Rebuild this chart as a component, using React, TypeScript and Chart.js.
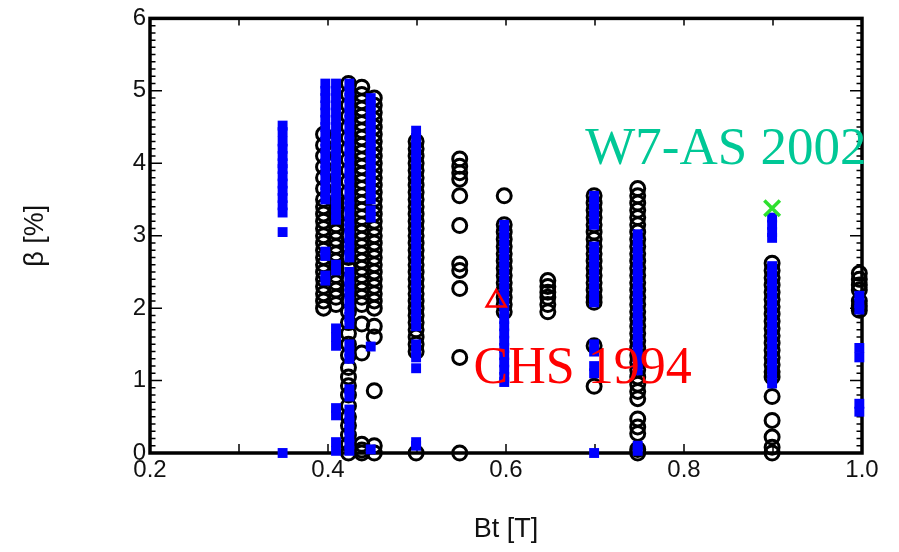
import { useEffect, useRef } from 'react';
import { Chart, registerables } from 'chart.js';

Chart.register(...registerables);

// ---- axis ticks ----
const xTickValues = [0.2, 0.4, 0.6, 0.8, 1.0];
const yTickValues = [0, 1, 2, 3, 4, 5, 6];

// ---- black open circles: [Bt, beta values] ----
const circles0395 = [4.4, 4.25, 4.1, 3.95, 3.8, 3.65, 3.5, 3.4, 3.3, 3.2, 3.1, 3.0, 2.9, 2.8, 2.7, 2.6, 2.5, 2.4, 2.3, 2.2, 2.1, 2.0];
const circles0409 = [3.45, 3.35, 3.25, 3.15, 3.05, 2.95, 2.85, 2.75, 2.65, 2.55, 2.45, 2.35, 2.25, 2.15, 2.05];
const circles0423 = [5.1, 4.95, 4.8, 4.65, 4.5, 4.35, 4.2, 4.05, 3.9, 3.75, 3.6, 3.45, 3.3, 3.15, 3.0, 2.85, 2.7, 2.55, 2.4, 2.25, 2.1, 1.95, 1.8, 1.65, 1.5, 1.35, 1.18, 1.05, 0.93, 0.8, 0.65, 0.5, 0.38, 0.25, 0.12, 0.0];
const circles0438 = [5.05, 4.95, 4.85, 4.75, 4.65, 4.55, 4.45, 4.35, 4.25, 4.15, 4.05, 3.95, 3.85, 3.75, 3.65, 3.55, 3.45, 3.35, 3.25, 3.15, 3.05, 2.95, 2.85, 2.75, 2.65, 2.55, 2.45, 2.35, 2.25, 2.15, 2.05, 1.78, 1.38, 0.12, 0.04, 0.0];
const circles0452 = [4.9, 4.8, 4.7, 4.6, 4.5, 4.4, 4.3, 4.2, 4.1, 4.0, 3.9, 3.8, 3.7, 3.6, 3.5, 3.4, 3.3, 3.2, 3.1, 3.0, 2.9, 2.8, 2.7, 2.6, 2.5, 2.4, 2.3, 2.2, 2.1, 2.0, 1.75, 1.6, 0.86, 0.1, 0.0];
const circles0499 = [4.3, 4.2, 4.1, 4.0, 3.9, 3.8, 3.7, 3.6, 3.5, 3.4, 3.3, 3.2, 3.1, 3.0, 2.9, 2.8, 2.7, 2.6, 2.5, 2.4, 2.3, 2.2, 2.1, 2.0, 1.9, 1.8, 1.7, 1.6, 1.5, 1.4, 0.0];
const circles0548 = [4.06, 3.96, 3.87, 3.78, 3.55, 3.14, 2.61, 2.52, 2.27, 1.32, 0.0];
const circles0598 = [3.55, 3.15, 3.05, 2.95, 2.85, 2.75, 2.65, 2.55, 2.45, 2.35, 2.25, 2.15, 2.05, 1.95];
const circles0647 = [2.38, 2.3, 2.22, 2.15, 2.05, 1.95];
const circles0699 = [3.55, 3.45, 3.35, 3.25, 3.15, 3.05, 2.95, 2.85, 2.75, 2.65, 2.55, 2.45, 2.35, 2.25, 2.15, 2.08, 1.48, 0.92];
const circles0748 = [3.65, 3.55, 3.45, 3.35, 3.25, 3.15, 3.05, 2.95, 2.85, 2.75, 2.65, 2.55, 2.45, 2.35, 2.25, 2.15, 2.05, 1.95, 1.85, 1.75, 1.65, 1.55, 1.45, 1.35, 1.25, 1.15, 1.05, 0.95, 0.85, 0.75, 0.47, 0.36, 0.27, 0.05, 0.0];
const circles0899 = [2.62, 2.52, 2.42, 2.32, 2.22, 2.12, 2.02, 1.92, 1.82, 1.72, 1.62, 1.52, 1.42, 1.32, 1.22, 1.12, 1.05, 0.78, 0.45, 0.22, 0.08, 0.0];
const circles0997 = [2.48, 2.4, 2.32, 2.25, 2.1, 2.03, 1.97];

const circleColumns: [number, number[]][] = [
  [0.395, circles0395], [0.409, circles0409], [0.423, circles0423], [0.438, circles0438],
  [0.452, circles0452], [0.499, circles0499], [0.548, circles0548], [0.598, circles0598],
  [0.647, circles0647], [0.699, circles0699], [0.748, circles0748], [0.899, circles0899],
  [0.997, circles0997],
];

// ---- blue filled squares ----
const squares0349 = [4.52, 4.43, 4.3, 4.2, 4.1, 4.0, 3.92, 3.82, 3.72, 3.62, 3.52, 3.42, 3.32, 3.05, 0.0];
const squares0397 = [5.1, 5.0, 4.9, 4.8, 4.7, 4.6, 4.5, 4.4, 4.3, 4.2, 4.1, 4.0, 3.9, 3.8, 3.7, 3.6, 3.5, 2.78, 2.72, 2.45, 2.38];
const squares0409 = [5.1, 5.0, 4.9, 4.8, 4.7, 4.6, 4.5, 4.4, 4.3, 4.2, 4.1, 4.0, 3.9, 3.8, 3.7, 3.6, 3.5, 3.4, 3.3, 3.22, 2.6, 2.52, 1.72, 1.6, 1.48, 0.62, 0.52, 0.15, 0.03];
const squares0424 = [5.1, 5.0, 4.9, 4.8, 4.7, 4.6, 4.5, 4.4, 4.3, 4.2, 4.1, 4.0, 3.9, 3.8, 3.7, 3.6, 3.5, 3.4, 3.3, 3.2, 3.1, 3.0, 2.9, 2.8, 2.7, 2.5, 2.4, 2.3, 2.2, 2.08, 1.98, 1.88, 1.78, 1.5, 1.4, 1.3, 0.88, 0.78, 0.6, 0.5, 0.42, 0.32, 0.22, 0.12, 0.03];
const squares0448 = [4.9, 4.8, 4.7, 4.6, 4.5, 4.4, 4.3, 4.2, 4.1, 4.0, 3.9, 3.8, 3.7, 3.6, 3.5, 3.35, 3.25, 1.47, 0.05];
const squares0499 = [4.45, 4.35, 4.25, 4.15, 4.05, 3.95, 3.85, 3.75, 3.65, 3.55, 3.45, 3.35, 3.25, 3.15, 3.05, 2.95, 2.85, 2.75, 2.65, 2.55, 2.45, 2.35, 2.25, 2.15, 2.05, 1.95, 1.85, 1.75, 1.5, 1.4, 1.32, 1.17, 0.15, 0.1];
const squares0598 = [3.15, 3.05, 2.95, 2.85, 2.75, 2.65, 2.55, 2.45, 2.35, 2.25, 2.15, 2.05, 1.95, 1.85, 1.75, 1.65, 1.55, 1.45, 1.35, 1.25, 1.15, 1.05, 0.98];
const squares0699 = [3.55, 3.45, 3.35, 3.25, 3.15, 2.85, 2.75, 2.65, 2.55, 2.45, 2.35, 2.25, 2.15, 2.08, 1.5, 1.4, 1.2, 1.1, 0.0];
const squares0748 = [3.02, 2.92, 2.82, 2.72, 2.62, 2.52, 2.42, 2.32, 2.22, 2.12, 2.02, 1.92, 1.82, 1.72, 1.62, 1.52, 1.42, 1.32, 1.22, 1.14, 0.1, 0.03];
const squares0899 = [3.25, 3.15, 3.05, 2.97, 2.58, 2.48, 2.38, 2.28, 2.18, 2.08, 1.98, 1.88, 1.78, 1.68, 1.58, 1.48, 1.38, 1.28, 1.18, 1.08, 0.96];
const squares0997 = [2.17, 2.07, 1.98, 1.45, 1.32, 0.68, 0.57];

const squareColumns: [number, number[]][] = [
  [0.349, squares0349], [0.397, squares0397], [0.409, squares0409], [0.424, squares0424],
  [0.448, squares0448], [0.499, squares0499], [0.598, squares0598], [0.699, squares0699],
  [0.748, squares0748], [0.899, squares0899], [0.997, squares0997],
];

// ---- single records ----
const chs1994 = [{ x: 0.589, y: 2.1 }];
const w7as2002 = [{ x: 0.899, y: 3.38 }];

// ---- text annotations (data coordinates) ----
const annotationTexts = ['W7-AS 2002', 'CHS 1994'];
const annotationBt = [0.689, 0.5635];
const annotationBeta = [3.99, 0.965];
const annotationColors = ['#00c896', '#ff0000'];
const annotationSizes = [53, 52];

const flatten = (cols: [number, number[]][]) =>
  cols.flatMap(([bt, betas]) => betas.map((b) => ({ x: bt, y: b })));

const framePlugin = {
  id: 'frameTicks',
  beforeDatasetsDraw(chart: any) {
    const { ctx, chartArea: a, scales } = chart;
    const xs = scales.x;
    const ys = scales.y;
    ctx.save();
    ctx.strokeStyle = '#000';
    ctx.lineWidth = 1.5;
    ctx.beginPath();
    for (let i = 0; i <= 60; i++) {
      const py = ys.getPixelForValue(i / 10);
      const len = i % 10 === 0 ? 12 : 5.5;
      ctx.moveTo(a.left, py);
      ctx.lineTo(a.left + len, py);
      ctx.moveTo(a.right, py);
      ctx.lineTo(a.right - len, py);
    }
    for (let i = 0; i <= 8; i++) {
      const px = xs.getPixelForValue(0.2 + i / 10);
      ctx.moveTo(px, a.bottom);
      ctx.lineTo(px, a.bottom - 9);
      ctx.moveTo(px, a.top);
      ctx.lineTo(px, a.top + 7);
    }
    ctx.stroke();
    ctx.lineWidth = 3.5;
    ctx.strokeRect(a.left, a.top, a.right - a.left, a.bottom - a.top);
    ctx.restore();
  },
  afterDatasetsDraw(chart: any) {
    const { ctx, scales } = chart;
    ctx.save();
    ctx.textAlign = 'left';
    ctx.textBaseline = 'alphabetic';
    annotationTexts.forEach((t, i) => {
      ctx.font = `${annotationSizes[i]}px "Liberation Serif", "Times New Roman", serif`;
      ctx.fillStyle = annotationColors[i];
      ctx.fillText(t, scales.x.getPixelForValue(annotationBt[i]), scales.y.getPixelForValue(annotationBeta[i]));
    });
    ctx.restore();
  },
};

export default function App() {
  const ref = useRef<HTMLCanvasElement>(null);
  useEffect(() => {
    const tickFont = { family: '"Liberation Sans", Arial, sans-serif', size: 24 };
    const titleFont = { family: '"Liberation Sans", Arial, sans-serif', size: 27 };
    const chart = new Chart(ref.current!, {
      type: 'scatter',
      data: {
        datasets: [
          {
            label: 'W7-AS 2002',
            data: w7as2002,
            pointStyle: 'crossRot',
            pointRadius: 11,
            borderWidth: 3.5,
            borderColor: '#2ee02e',
            backgroundColor: '#2ee02e',
            clip: false,
          },
          {
            label: 'CHS 1994',
            data: chs1994,
            pointStyle: 'triangle',
            pointRadius: 11,
            borderWidth: 2.5,
            borderColor: '#ff0000',
            backgroundColor: 'rgba(255,255,255,0)',
            clip: false,
          },
          {
            label: 'blue',
            data: flatten(squareColumns),
            pointStyle: 'rect',
            pointRadius: 7,
            borderWidth: 0,
            backgroundColor: '#0000ff',
            borderColor: '#0000ff',
            clip: false,
          },
          {
            label: 'black',
            data: flatten(circleColumns),
            pointStyle: 'circle',
            pointRadius: 7,
            borderWidth: 3,
            borderColor: '#000000',
            backgroundColor: 'rgba(255,255,255,0)',
            clip: false,
          },
        ],
      },
      options: {
        responsive: false,
        animation: false,
        devicePixelRatio: 1,
        events: [],
        layout: { padding: { top: 17, right: 37, bottom: 0, left: 0 } },
        plugins: { legend: { display: false }, tooltip: { enabled: false } },
        scales: {
          x: {
            type: 'linear',
            min: 0.2,
            max: 1.0,
            afterFit: (s: any) => { s.height = 99; },
            afterBuildTicks: (s: any) => { s.ticks = xTickValues.map((v) => ({ value: v })); },
            ticks: { font: tickFont, color: '#111', padding: 3, callback: (v: any) => Number(v).toFixed(1) },
            grid: { display: false, drawTicks: false },
            border: { display: false },
            title: { display: true, text: 'Bt [T]', font: titleFont, color: '#111', padding: { top: 0, bottom: 6 } },
          },
          y: {
            type: 'linear',
            min: 0,
            max: 6,
            afterFit: (s: any) => { s.width = 150; },
            afterBuildTicks: (s: any) => { s.ticks = yTickValues.map((v) => ({ value: v })); },
            ticks: { font: tickFont, color: '#111', padding: 4, callback: (v: any) => String(v) },
            grid: { display: false, drawTicks: false },
            border: { display: false },
            title: { display: true, text: 'β [%]', font: titleFont, color: '#111', padding: { top: 19, bottom: 0 } },
          },
        },
      },
      plugins: [framePlugin],
    } as any);
    return () => chart.destroy();
  }, []);
  return (
    <div style={{ position: 'absolute', left: 0, top: 0, width: 899, height: 552, background: '#fff' }}>
      <canvas ref={ref} width={899} height={552} style={{ display: 'block', width: 899, height: 552 }} />
    </div>
  );
}
